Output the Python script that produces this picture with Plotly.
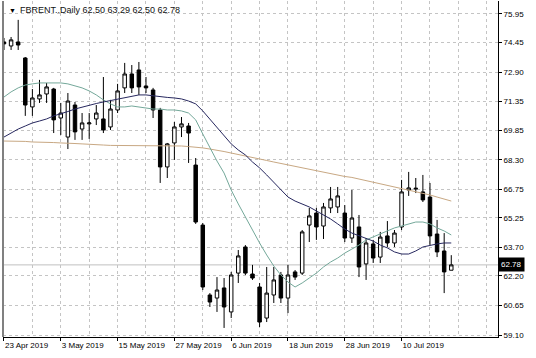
import numpy as np
import pandas as pd
import plotly.graph_objects as go

# ---- data ----
dates = pd.bdate_range("2019-04-23", periods=64)

opens = [74.48, 74.27, 74.48, 73.64, 71.07, 71.49, 71.75, 72.01, 70.49, 69.49,
         71.17, 69.91, 70.18, 70.44, 70.44, 70.02, 70.91, 72.07, 72.80, 73.01,
         72.17, 71.96, 70.91, 67.92, 69.18, 70.02, 70.07, 68.02, 64.87, 61.20,
         61.04, 61.57, 60.31, 62.35, 63.72, 62.30, 61.62, 59.99, 61.20, 62.25,
         61.04, 62.41, 62.35, 64.87, 65.50, 64.82, 65.77, 65.82, 65.50, 64.19,
         64.77, 62.83, 63.88, 63.19, 64.30, 63.93, 64.77, 66.71, 66.76, 66.61,
         66.34, 64.40, 63.51, 62.50]
highs = [74.69, 74.74, 75.64, 73.69, 72.01, 72.49, 72.33, 72.07, 71.28, 71.80,
         71.33, 70.75, 70.75, 71.17, 72.64, 71.44, 72.28, 73.38, 73.27, 73.43,
         72.64, 72.07, 71.02, 69.18, 70.28, 70.54, 70.23, 68.39, 64.98, 61.30,
         62.14, 62.09, 62.41, 63.56, 63.82, 62.78, 61.83, 62.67, 62.67, 62.41,
         62.78, 62.51, 64.61, 65.77, 65.77, 66.03, 66.87, 66.87, 65.92, 66.71,
         65.40, 64.19, 64.09, 64.51, 65.08, 64.61, 67.24, 67.66, 67.34, 67.50,
         67.08, 65.14, 64.45, 63.29]
lows = [74.06, 74.06, 74.06, 70.60, 70.60, 71.28, 71.28, 69.70, 69.60, 68.86,
        69.34, 69.34, 69.39, 70.12, 69.70, 69.86, 70.75, 71.80, 71.80, 71.70,
        71.80, 70.49, 67.08, 67.34, 68.29, 69.49, 68.13, 64.93, 61.46, 60.57,
        60.31, 59.47, 59.99, 61.83, 62.25, 61.99, 59.52, 59.78, 60.78, 60.78,
        60.25, 61.99, 62.25, 63.98, 64.09, 64.14, 65.50, 65.50, 63.98, 63.93,
        62.14, 61.99, 62.88, 62.88, 63.72, 63.72, 64.61, 66.40, 66.55, 66.08,
        63.82, 63.19, 61.30, 62.50]
closes = [74.38, 74.59, 74.32, 71.17, 71.54, 71.70, 72.12, 70.39, 70.75, 71.38,
          69.76, 70.23, 70.23, 70.75, 69.86, 70.96, 71.91, 72.80, 72.07, 72.12,
          72.07, 70.91, 67.92, 69.13, 70.02, 70.18, 69.70, 65.03, 61.62, 60.83,
          61.46, 60.57, 62.25, 63.25, 62.35, 62.09, 59.78, 61.30, 61.99, 61.04,
          62.25, 62.14, 64.51, 65.35, 64.77, 65.82, 66.24, 66.40, 64.19, 65.24,
          62.67, 63.93, 63.14, 64.24, 63.93, 64.45, 66.61, 66.82, 66.80, 66.19,
          64.30, 63.46, 62.41, 62.78]

ma_mid = [69.49, 69.70, 69.91, 70.07, 70.23, 70.33, 70.44, 70.60, 70.70, 70.83,
          70.96, 71.07, 71.15, 71.25, 71.33, 71.41, 71.49, 71.57, 71.65, 71.70,
          71.70, 71.65, 71.59, 71.57, 71.54, 71.49, 71.38, 71.23, 70.86, 70.44,
          70.02, 69.55, 69.13, 68.81, 68.55, 68.18, 67.87, 67.50, 67.13, 66.71,
          66.34, 66.13, 65.98, 65.82, 65.61, 65.40, 65.19, 64.93, 64.66, 64.45,
          64.30, 64.14, 64.03, 63.82, 63.67, 63.46, 63.35, 63.35, 63.51, 63.72,
          63.82, 63.88, 63.93, 63.93]
ma_fast = [71.59, 71.86, 72.07, 72.22, 72.28, 72.33, 72.33, 72.33, 72.33, 72.28,
           72.17, 72.07, 71.91, 71.70, 71.44, 71.23, 71.07, 71.07, 71.12, 71.07,
           71.02, 70.96, 70.96, 70.91, 70.91, 70.86, 70.75, 70.39, 69.65, 68.92,
           68.23, 67.60, 66.71, 65.98, 65.29, 64.56, 63.93, 63.30, 62.72, 62.25,
           61.88, 61.62, 61.83, 62.09, 62.35, 62.67, 62.93, 63.14, 63.40, 63.61,
           63.82, 64.09, 64.24, 64.40, 64.56, 64.72, 64.82, 64.93, 65.03, 65.03,
           64.93, 64.72, 64.56, 64.35]
ma_slow = [69.28, 69.28, 69.26, 69.26, 69.23, 69.23, 69.20, 69.20, 69.18, 69.18,
           69.15, 69.13, 69.10, 69.07, 69.07, 69.05, 69.05, 69.02, 69.02, 69.02,
           69.02, 69.02, 69.02, 69.02, 69.02, 69.02, 68.99, 68.97, 68.92, 68.86,
           68.81, 68.73, 68.65, 68.58, 68.50, 68.42, 68.34, 68.26, 68.18, 68.10,
           68.02, 67.95, 67.87, 67.79, 67.71, 67.66, 67.58, 67.50, 67.42, 67.37,
           67.29, 67.21, 67.13, 67.05, 66.97, 66.87, 66.79, 66.71, 66.63, 66.55,
           66.45, 66.34, 66.24, 66.13]

y_tick_labels = ["75.95", "74.45", "72.90", "71.35", "69.85", "68.30",
                 "66.75", "65.25", "63.70", "62.20", "60.65", "59.10"]
label_every = 8
symbol = "FBRENT..Daily"

# ---- figure ----
x = np.arange(len(dates))
tick_idx = x[::label_every][:8]
tick_text = [f"{d.day} {d.strftime('%b %Y')}" for d in dates[tick_idx]]

FONT = "Liberation Sans"
GRID = "#c4c4c4"

fig = go.Figure()
fig.add_trace(go.Candlestick(
    x=x, open=opens, high=highs, low=lows, close=closes,
    increasing=dict(line=dict(color="black", width=1), fillcolor="white"),
    decreasing=dict(line=dict(color="black", width=1), fillcolor="black"),
    whiskerwidth=0, hoverinfo="skip", showlegend=False))
for vals, col in [(ma_slow, "#c8a883"), (ma_fast, "#74a89a"), (ma_mid, "#27285f")]:
    fig.add_trace(go.Scatter(x=x, y=vals, mode="lines",
                             line=dict(color=col, width=1),
                             hoverinfo="skip", showlegend=False))

# bid line
fig.add_hline(y=closes[-1], line=dict(color="#c0c0c0", width=1), layer="below")

fig.update_layout(
    width=536, height=358,
    margin=dict(l=3, r=38, t=1, b=21),
    paper_bgcolor="white", plot_bgcolor="white",
    showlegend=False,
    xaxis=dict(
        range=[-0.14, 69.58], rangeslider=dict(visible=False),
        tickmode="array", tickvals=tick_idx, ticktext=tick_text,
        ticks="outside", ticklen=3, tickcolor="black",
        ticklabelposition="outside right",
        showline=True, linecolor="black", linewidth=1,
        showgrid=True, gridcolor=GRID, griddash="3px,3px", gridwidth=1,
        minor=dict(tick0=0, dtick=4, showgrid=True, gridcolor=GRID,
                   griddash="3px,3px", gridwidth=1),
        zeroline=False, automargin=False,
        tickfont=dict(family=FONT, size=8, color="black"),
    ),
    yaxis=dict(
        side="right", range=[58.995, 76.63],
        tickmode="array", tickvals=[float(t) for t in y_tick_labels],
        ticktext=y_tick_labels,
        ticks="outside", ticklen=3, tickcolor="black",
        showline=True, linecolor="black", linewidth=1,
        showgrid=True, gridcolor=GRID, griddash="3px,3px", gridwidth=1,
        zeroline=False, automargin=False,
        tickfont=dict(family=FONT, size=8, color="black"),
    ),
)

# left frame border
fig.add_shape(type="line", xref="paper", yref="paper", x0=0, x1=0, y0=0, y1=1,
              line=dict(color="#808080", width=2))

# header
fig.add_annotation(xref="paper", yref="paper", x=0.008, y=0.973,
                   xanchor="left", yanchor="middle", showarrow=False,
                   text="▼", font=dict(family=FONT, size=7, color="black"))
fig.add_annotation(xref="paper", yref="paper", x=0.030, y=0.973,
                   xanchor="left", yanchor="middle", showarrow=False,
                   text=f"{symbol} {opens[-1]:.2f} {highs[-1]:.2f} {lows[-1]:.2f} {closes[-1]:.2f}",
                   font=dict(family=FONT, size=9, color="#111111"))

# current price box
fig.add_annotation(xref="paper", yref="y", x=1, y=closes[-1],
                   xanchor="left", yanchor="middle", showarrow=False,
                   text=f"{closes[-1]:.2f}", bgcolor="black", borderpad=2,
                   font=dict(family=FONT, size=8, color="white"))

fig.write_html("out.html", config={"displayModeBar": False, "staticPlot": True})

# remove default page margin so the figure sits at the window origin
with open("out.html", "r", encoding="utf-8") as fh:
    html = fh.read()
html = html.replace("<head>", "<head><style>html,body{margin:0;padding:0;overflow:hidden;}</style>", 1)
with open("out.html", "w", encoding="utf-8") as fh:
    fh.write(html)
